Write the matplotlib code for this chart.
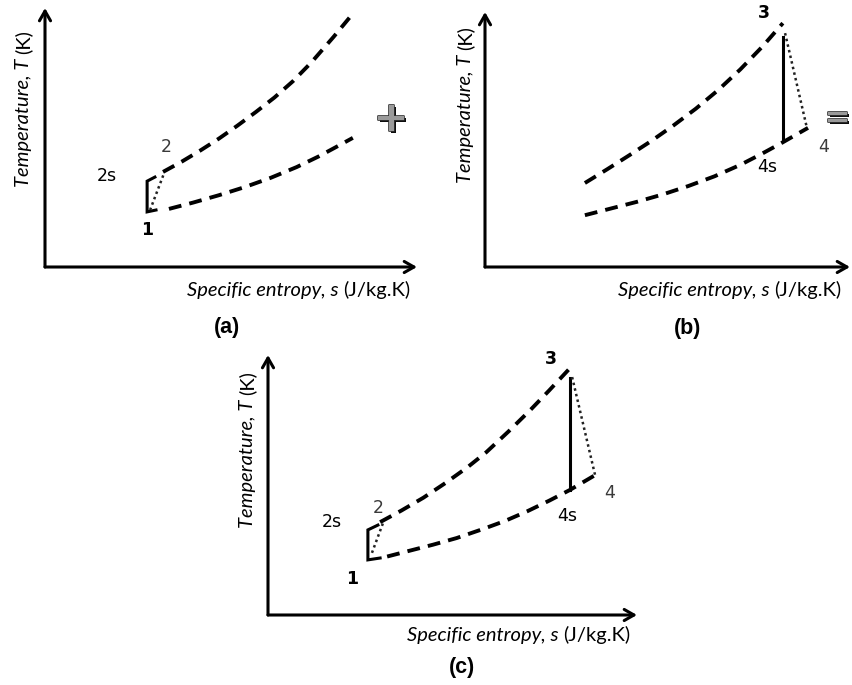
import matplotlib
matplotlib.use('Agg')
import matplotlib.pyplot as plt
import matplotlib.patheffects as pe

W, H = 852, 685
PX = 37.0  # pixels per data unit (s and T are arbitrary units)

LABEL_FONT = 'Lato'
LABEL_SIZE = 14.5
POINT_FONT = 'DejaVu Sans'

# ---- panel (a): compression 1 -> 2s / 2
A_HP_S = [3.19, 3.70, 4.20, 4.70, 5.20, 5.70, 6.20, 6.70, 7.20, 7.80, 8.33]
A_HP_T = [2.57, 2.85, 3.15, 3.47, 3.82, 4.19, 4.58, 5.02, 5.53, 6.22, 6.86]
A_LP_S = [3.35, 4.00, 4.70, 5.40, 6.10, 6.80, 7.40, 7.90, 8.32]
A_LP_T = [1.57, 1.74, 1.94, 2.16, 2.41, 2.70, 2.99, 3.26, 3.49]
A_ISEN_S = [2.97, 2.76, 2.76, 3.00]
A_ISEN_T = [2.43, 2.32, 1.49, 1.54]
A_REAL_S = [2.84, 3.22]
A_REAL_T = [1.54, 2.54]
A_LABELS = ['2', '2s', '1']
A_LABEL_S = [3.27, 1.68, 2.76]
A_LABEL_T = [3.24, 2.46, 1.00]

# ---- panel (b): expansion 3 -> 4s / 4
B_HP_S = [2.70, 3.30, 3.90, 4.50, 5.10, 5.70, 6.30, 6.90, 7.50, 8.05]
B_HP_T = [2.27, 2.64, 3.02, 3.41, 3.83, 4.28, 4.78, 5.34, 5.96, 6.59]
B_LP_S = [2.70, 3.40, 4.10, 4.80, 5.50, 6.20, 6.90, 7.50, 8.03, 8.73]
B_LP_T = [1.40, 1.58, 1.76, 1.96, 2.19, 2.45, 2.76, 3.07, 3.36, 3.76]
B_ISEN_S = [8.05, 8.05]
B_ISEN_T = [6.22, 3.43]
B_REAL_S = [8.11, 8.70]
B_REAL_T = [6.32, 3.76]
B_LABELS = ['3', '4s', '4']
B_LABEL_S = [7.54, 7.62, 9.14]
B_LABEL_T = [6.86, 2.70, 3.24]

# ---- panel (c): complete cycle
C_HP_S = [3.03, 3.60, 4.20, 4.80, 5.40, 5.90, 6.50, 7.10, 7.60, 8.16]
C_HP_T = [2.51, 2.82, 3.17, 3.57, 4.00, 4.40, 4.96, 5.55, 6.07, 6.67]
C_LP_S = [3.22, 3.80, 4.46, 5.10, 5.80, 6.40, 7.00, 7.60, 8.16, 8.84]
C_LP_T = [1.58, 1.73, 1.90, 2.08, 2.32, 2.54, 2.80, 3.09, 3.38, 3.78]
C_ISEN1_S = [2.97, 2.70, 2.70, 3.03]
C_ISEN1_T = [2.43, 2.30, 1.49, 1.54]
C_REAL1_S = [2.81, 3.11]
C_REAL1_T = [1.68, 2.49]
C_ISEN2_S = [8.16, 8.16]
C_ISEN2_T = [6.41, 3.38]
C_REAL2_S = [8.22, 8.84]
C_REAL2_T = [6.43, 3.78]
C_LABELS = ['3', '2', '2s', '1', '4s', '4']
C_LABEL_S = [7.65, 2.97, 1.73, 2.27, 8.08, 9.24]
C_LABEL_T = [6.92, 2.89, 2.51, 0.97, 2.68, 3.30]

DASH = (0, (3.3, 2.1))

fig = plt.figure(figsize=(W / 100, H / 100), dpi=100, facecolor='white')


def make_axes(x0, y0, w, h):
    """Axes whose lower-left corner sits at pixel (x0, y0), measured from the top."""
    ax = fig.add_axes([x0 / W, (H - y0) / H, w / W, h / H])
    ax.set_xlim(0, w / PX)
    ax.set_ylim(0, h / PX)
    ax.axis('off')
    arrow = dict(arrowstyle='->,head_length=0.7,head_width=0.4', lw=2.2,
                 color='black', shrinkA=0, shrinkB=0)
    ax.annotate('', xy=(1, 0), xytext=(0, 0), xycoords='axes fraction',
                arrowprops=arrow, annotation_clip=False)
    ax.annotate('', xy=(0, 1), xytext=(0, 0), xycoords='axes fraction',
                arrowprops=arrow, annotation_clip=False)
    return ax


def dashed(ax, s, t):
    ax.plot(s, t, color='black', lw=2.8, linestyle=DASH, clip_on=False)


def solid(ax, s, t):
    ax.plot(s, t, color='black', lw=2.2, solid_joinstyle='miter', clip_on=False)


def dotted(ax, s, t):
    ax.plot(s, t, color='#222222', lw=1.8, linestyle=(0, (1, 1.3)), clip_on=False)


def point_labels(ax, names, s, t):
    for name, x, y in zip(names, s, t):
        bold = name in ('1', '3')
        grey = name in ('2', '4')
        ax.text(x, y, name, family=POINT_FONT, fontsize=12.5,
                fontweight='bold' if bold else 'normal',
                color='#3a3a3a' if grey else 'black',
                ha='center', va='center', clip_on=False)


def mixed_label(x, y, parts, rotation=0):
    """Write text pieces with different styles one after another.
    (x, y) is the start of the baseline in pixels from the top-left."""
    renderer = fig.canvas.get_renderer()
    pos = 0.0
    for text, style in parts:
        if rotation:
            xx, yy = x, y - pos
        else:
            xx, yy = x + pos, y
        t = fig.text(xx / W, 1 - yy / H, text, family=LABEL_FONT, style=style,
                     fontsize=LABEL_SIZE, rotation=rotation, rotation_mode='anchor',
                     ha='left', va='baseline')
        ext = t.get_window_extent(renderer)
        pos += (ext.height if rotation else ext.width) + 5


def axis_labels(xlab_start, xlab_base, ylab_base, ylab_start):
    mixed_label(xlab_start, xlab_base,
                [('Specific entropy, s', 'italic'), ('(J/kg.K)', 'normal')])
    mixed_label(ylab_base, ylab_start,
                [('Temperature, T', 'italic'), ('(K)', 'normal')], rotation=90)


# (a)
ax_a = make_axes(45, 267, 372, 259)
dashed(ax_a, A_HP_S, A_HP_T)
dashed(ax_a, A_LP_S, A_LP_T)
solid(ax_a, A_ISEN_S, A_ISEN_T)
dotted(ax_a, A_REAL_S, A_REAL_T)
point_labels(ax_a, A_LABELS, A_LABEL_S, A_LABEL_T)
axis_labels(187, 296, 29, 187)

# (b)
ax_b = make_axes(485, 267, 365, 255)
dashed(ax_b, B_HP_S, B_HP_T)
dashed(ax_b, B_LP_S, B_LP_T)
solid(ax_b, B_ISEN_S, B_ISEN_T)
dotted(ax_b, B_REAL_S, B_REAL_T)
point_labels(ax_b, B_LABELS, B_LABEL_S, B_LABEL_T)
axis_labels(618, 296, 471, 183)

# (c)
ax_c = make_axes(268, 615, 369, 260)
dashed(ax_c, C_HP_S, C_HP_T)
dashed(ax_c, C_LP_S, C_LP_T)
solid(ax_c, C_ISEN1_S, C_ISEN1_T)
dotted(ax_c, C_REAL1_S, C_REAL1_T)
solid(ax_c, C_ISEN2_S, C_ISEN2_T)
dotted(ax_c, C_REAL2_S, C_REAL2_T)
point_labels(ax_c, C_LABELS, C_LABEL_S, C_LABEL_T)
axis_labels(407, 641, 253, 528)

# panel captions
for cap, cx, cy in [('(a)', 227, 328), ('(b)', 688, 329), ('(c)', 462, 667)]:
    fig.text(cx / W, 1 - cy / H, cap, family='Liberation Sans', fontweight='bold',
             fontsize=15.5, ha='center', va='center')

# the "+" and "=" between the panels
embossed = [pe.SimplePatchShadow(offset=(1.5, -1.5), shadow_rgbFace='black', alpha=0.95),
            pe.Stroke(linewidth=1.2, foreground='#333333'),
            pe.Normal()]
fig.text(391 / W, 1 - 119 / H, '+', family='DejaVu Sans', fontweight='bold',
         fontsize=30, color='#9a9a9a', ha='center', va='center', path_effects=embossed)
fig.text(850 / W, 1 - 118 / H, '=', family='DejaVu Sans', fontweight='bold',
         fontsize=22, color='#9a9a9a', ha='right', va='center', path_effects=embossed)

fig.savefig('out.png', dpi=100, facecolor='white')
